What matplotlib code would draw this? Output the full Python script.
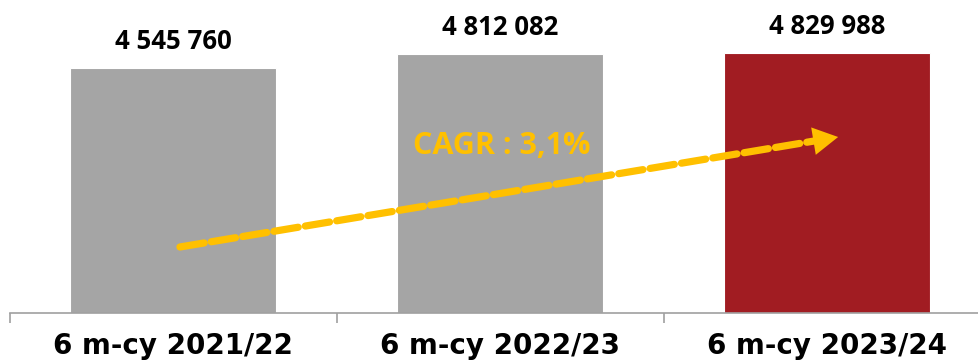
import matplotlib.pyplot as plt

categories = ["6 m-cy 2021/22", "6 m-cy 2022/23", "6 m-cy 2023/24"]
values = [4545760, 4812082, 4829988]
value_labels = ["4 545 760", "4 812 082", "4 829 988"]
colors = ["#A5A5A5", "#A5A5A5", "#A11C22"]
cagr_text = "CAGR : 3,1%"

fig = plt.figure(figsize=(9.79, 3.63), dpi=100)
ax = fig.add_axes([10 / 979, 50 / 363, 1 - 10 / 979, 313 / 363])

x = list(range(len(categories)))
ax.bar(x, values, width=0.63, color=colors, edgecolor="white", linewidth=0.8)

ymax = values[2] * 313 / 260

for xi, v, lab in zip(x, values, value_labels):
    ax.annotate(lab, (xi, v), xytext=(0, 19), textcoords="offset points",
                ha="center", va="center", fontsize=18.5, fontweight="bold",
                family="Open Sans", color="black")

# CAGR arrow
start = (0.02, ymax * (313 - 247) / 313)
end = (2.034, ymax * (313 - 137) / 313)
ax.annotate("", xy=end, xytext=start,
            arrowprops=dict(arrowstyle="-", color="#FFC000",
                            lw=5.2, linestyle=(0, (3.4, 1.0)), shrinkA=0, shrinkB=14))
ax.annotate("", xy=end, xytext=start,
            arrowprops=dict(arrowstyle="-|>,head_length=0.9,head_width=0.5", color="#FFC000",
                            lw=0, mutation_scale=20, shrinkA=0, shrinkB=0))
ax.text(1.005, ymax * (313 - 146) / 313, cagr_text, ha="center", va="center",
        fontsize=22, fontweight="bold", family="Open Sans", color="#FFC000")

for s in ["top", "right", "left"]:
    ax.spines[s].set_visible(False)
ax.spines["bottom"].set_color("#A0A0A0")
ax.spines["bottom"].set_linewidth(1.2)
ax.set_yticks([])
ax.set_xticks([-0.5, 0.5, 1.5, 2.5])
ax.set_xticklabels([])
ax.set_xticks(x, minor=True)
ax.set_xticklabels(categories, minor=True, fontsize=20, fontweight="bold", family="DejaVu Sans")
ax.tick_params(axis="x", which="major", length=7, color="#A0A0A0", width=1.2)
ax.tick_params(axis="x", which="minor", length=0, pad=14)
ax.set_ylim(0, ymax)
ax.set_xlim(-0.5, 2.465)

fig.savefig("out.png", dpi=100)
